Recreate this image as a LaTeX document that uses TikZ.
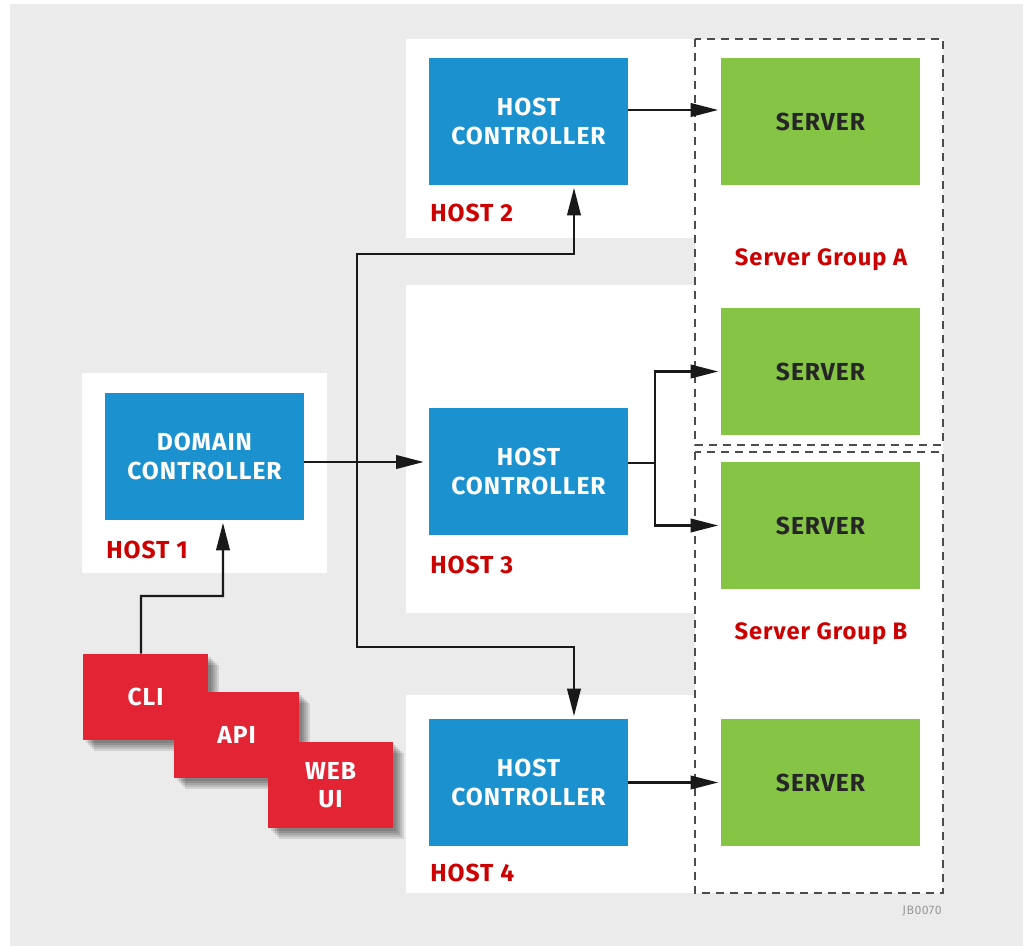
\documentclass[tikz,border=0pt]{standalone}
\usepackage{fontspec}
\setmainfont{Fira Sans}[LetterSpace=4]
\usetikzlibrary{arrows.meta,shadows}

\definecolor{bggray}{HTML}{EBEBEB}
\definecolor{hcblue}{HTML}{1B92CF}
\definecolor{srvgreen}{HTML}{86C446}
\definecolor{clired}{HTML}{E32434}
\definecolor{lblred}{HTML}{CC0000}

\begin{document}
\begin{tikzpicture}[x=0.02cm,y=-0.02cm,
  boxtext/.style={font=\bfseries\fontsize{14}{16}\selectfont,align=center,inner sep=0},
  hcbox/.style={boxtext,fill=hcblue,text=white,minimum width=3.98cm,minimum height=2.54cm},
  srvbox/.style={boxtext,fill=srvgreen,text=black!85,minimum width=3.98cm,minimum height=2.54cm},
  softshadow/.style={drop shadow={shadow xshift=#1,shadow yshift=-#1,fill=black,opacity=0.11}},
  clibox/.style={boxtext,fill=clired,text=white,minimum width=2.5cm,minimum height=1.72cm,
    softshadow=0.22cm,softshadow=0.18cm,softshadow=0.14cm,softshadow=0.1cm,softshadow=0.06cm},
  hostlabel/.style={anchor=west,text=lblred,font=\bfseries\fontsize{14}{16}\selectfont,inner sep=0},
  grouplabel/.style={text=lblred,font=\bfseries\fontsize{13.5}{16}\selectfont,inner sep=0},
  link/.style={line width=0.045cm,black!90,shorten >=0.05cm,-{Triangle[length=0.55cm,width=0.27cm]}},
  plain/.style={line width=0.045cm,black!90},
  groupbox/.style={dashed,dash pattern=on 0.16cm off 0.12cm,line width=0.025cm,black!70}]

\useasboundingbox (0,0) rectangle (1029,946);
\fill[bggray] (10,4) rectangle (1023,946);

% white panels behind the hosts
\fill[white] (82,373) rectangle (327,573);
\fill[white] (406,39) rectangle (695,238);
\fill[white] (406,285) rectangle (695,613);
\fill[white] (406,695) rectangle (695,893);
\fill[white] (695,39) rectangle (943,893);

% server groups
\draw[groupbox] (695,39) rectangle (943,445);
\draw[groupbox] (695,452) rectangle (943,893);
\node[grouplabel] (grpA) at (821,260) {Server Group A};
\node[grouplabel] (grpB) at (821,634) {Server Group B};

% controllers
\node[hcbox] (dc) at (204.5,456.5) {DOMAIN\\CONTROLLER};
\node[hcbox] (hc2) at (528.5,121.5) {HOST\\CONTROLLER};
\node[hcbox] (hc3) at (528.5,471.5) {HOST\\CONTROLLER};
\node[hcbox] (hc4) at (528.5,782.5) {HOST\\CONTROLLER};

\node[hostlabel] (h1) at (106,550) {HOST 1};
\node[hostlabel] (h2) at (430,213) {HOST 2};
\node[hostlabel] (h3) at (430,565) {HOST 3};
\node[hostlabel] (h4) at (430,873) {HOST 4};

% servers
\node[srvbox] (srv1) at (820.5,121.5) {SERVER};
\node[srvbox] (srv2) at (820.5,371.5) {SERVER};
\node[srvbox] (srv3) at (820.5,525.5) {SERVER};
\node[srvbox] (srv4) at (820.5,782.5) {SERVER};

% clients
\node[clibox] (cli) at (145.5,697) {CLI};
\node[clibox] (api) at (236.5,735) {API};
\node[clibox] (web) at (330.5,785) {WEB\\UI};

% connectors
\coordinate (split) at (357,462);
\coordinate (top) at (357,254);
\coordinate (bottom) at (357,647);
\coordinate (fork) at (655,463);
\coordinate (kink) at (223,596);

\draw[link] ([xshift=-0.09cm]cli.north) |- (kink) -- ([xshift=0.37cm]dc.south);
\draw[link,shorten >=0.1cm] (dc.east |- split) -- (hc3.west |- split);
\draw[link] (split) -- (top) -| ([xshift=0.91cm]hc2.south);
\draw[link] (split) -- (bottom) -| ([xshift=0.91cm]hc4.north);

\draw[link] ([yshift=0.23cm]hc2.east) -- ([yshift=0.23cm]srv1.west);
\draw[plain] (hc3.east |- fork) -- (fork);
\draw[link] (fork) |- (srv2.west);
\draw[link] (fork) |- (srv3.west);
\draw[link] (hc4.east) -- (srv4.west);

\node[anchor=east,text=black!40,font=\fontsize{7}{8}\selectfont,inner sep=0] (tag) at (942,911) {JB0070};

\end{tikzpicture}
\end{document}
